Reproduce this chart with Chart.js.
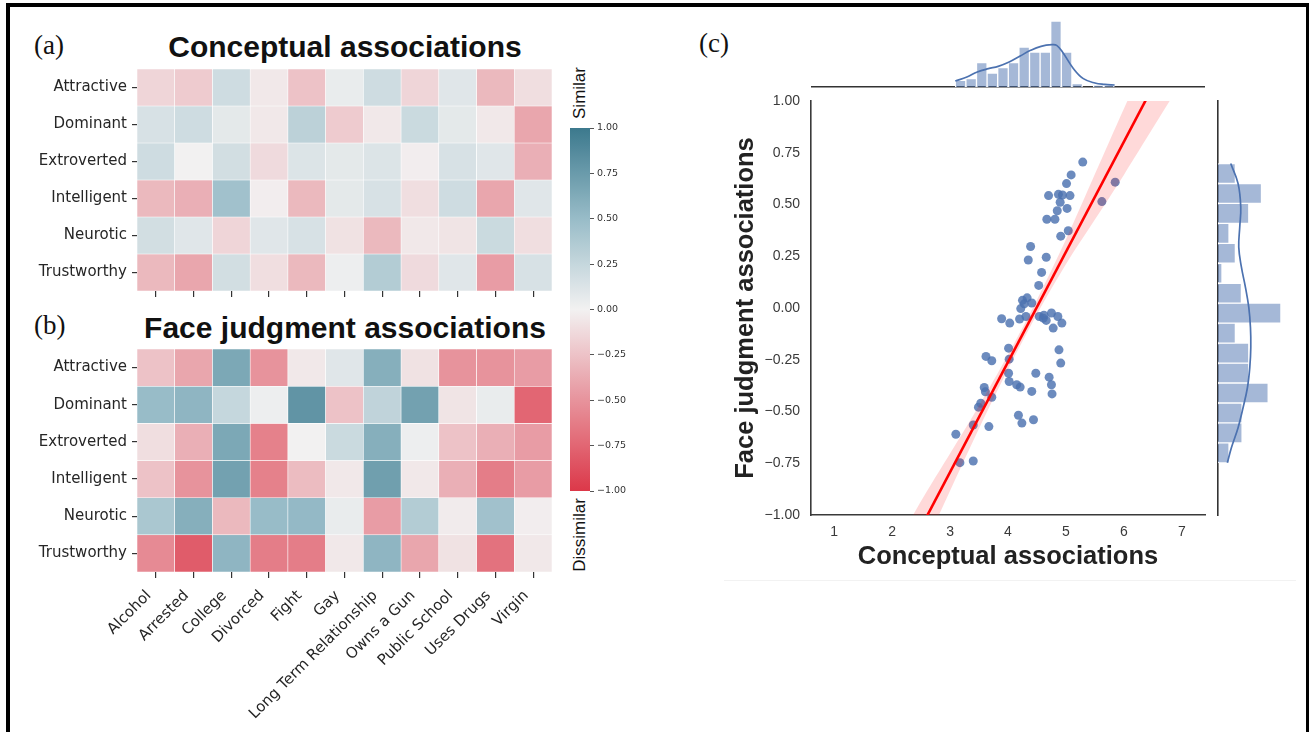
<!DOCTYPE html>
<html>
<head>
<meta charset="utf-8">
<script src="https://cdn.jsdelivr.net/npm/chart.js@4.4.1/dist/chart.umd.min.js"></script>
<style>
    body { margin: 0; background: #fff; width: 1309px; height: 732px; overflow: hidden; position: relative; }
    .frame { position: absolute; left: 6px; top: 3px; width: 1303px; height: 740px; box-sizing: border-box;
             border-top: 4px solid #000; border-left: 4px solid #000; border-right: 3px solid #000; }
    .box { position: absolute; }
    .panel { position: absolute; font-family: "Liberation Serif", serif; font-size: 27px; line-height: 27px; color: #111; }
    .title { position: absolute; font-family: "Liberation Sans", Arial, sans-serif; font-weight: bold;
             font-size: 30px; line-height: 30px; color: #111; text-align: center; }
    .cblabel { position: absolute; font-family: "Liberation Sans", Arial, sans-serif; font-size: 17px; color: #111;
               white-space: nowrap; transform: translate(-50%, -50%) rotate(-90deg); }
    .edge { position: absolute; left: 724px; top: 580px; width: 572px; height: 1px; background: #f2f2f2; }
</style>
</head>
<body>
<div class="frame"></div>
<div class="edge"></div>

<div class="panel" style="left:34px;top:32px">(a)</div>
<div class="panel" style="left:34px;top:312px">(b)</div>
<div class="panel" style="left:699px;top:30px">(c)</div>

<div class="title" style="left:137px;width:416px;top:32px">Conceptual associations</div>
<div class="title" style="left:137px;width:416px;top:313px">Face judgment associations</div>

<div class="cblabel" style="left:580px;top:93px">Similar</div>
<div class="cblabel" style="left:580px;top:535px">Dissimilar</div>

<div class="box" style="left:0;top:55px"><canvas id="heatA" width="570" height="250"></canvas></div>
<div class="box" style="left:0;top:335px"><canvas id="heatB" width="570" height="395"></canvas></div>
<div class="box" style="left:560px;top:118px"><canvas id="colorbar" width="80" height="385"></canvas></div>
<div class="box" style="left:690px;top:95px"><canvas id="scatter" width="530" height="490"></canvas></div>
<div class="box" style="left:811px;top:10px"><canvas id="histTop" width="394" height="80"></canvas></div>
<div class="box" style="left:1214px;top:95px"><canvas id="histRight" width="90" height="425"></canvas></div>

<script>
// Heatmap rows / columns
const traits = ['Attractive', 'Dominant', 'Extroverted', 'Intelligent', 'Neurotic', 'Trustworthy'];
const behaviours = ['Alcohol', 'Arrested', 'College', 'Divorced', 'Fight', 'Gay',
    'Long Term Relationship', 'Owns a Gun', 'Public School', 'Uses Drugs', 'Virgin'];

// (a) conceptual associations, one row per trait
const conceptual = [
    [-0.15, -0.20, 0.20, -0.05, -0.25, 0.05, 0.20, -0.15, 0.10, -0.30, -0.10],
    [0.15, 0.20, 0.08, -0.05, 0.30, -0.20, -0.05, 0.22, 0.08, -0.05, -0.40],
    [0.20, 0.00, 0.18, -0.12, 0.12, 0.08, 0.12, -0.02, 0.15, 0.10, -0.35],
    [-0.30, -0.35, 0.45, -0.02, -0.30, 0.08, 0.15, -0.10, 0.20, -0.40, 0.10],
    [0.18, 0.10, -0.15, 0.10, 0.15, -0.08, -0.30, -0.05, -0.07, 0.22, -0.10],
    [-0.30, -0.40, 0.18, -0.10, -0.30, 0.03, 0.35, -0.12, 0.10, -0.45, 0.15]
];

// (b) face judgment associations
const faceJudgment = [
    [-0.25, -0.40, 0.65, -0.50, -0.05, 0.10, 0.60, -0.08, -0.50, -0.50, -0.45],
    [0.50, 0.55, 0.25, 0.03, 0.80, -0.25, 0.28, 0.70, -0.07, 0.05, -0.75],
    [-0.10, -0.35, 0.65, -0.60, 0.00, 0.22, 0.60, 0.03, -0.25, -0.35, -0.45],
    [-0.25, -0.50, 0.70, -0.60, -0.28, -0.05, 0.72, -0.05, -0.35, -0.62, -0.45],
    [0.40, 0.60, -0.30, 0.50, 0.52, 0.05, -0.45, 0.35, -0.03, 0.45, -0.02],
    [-0.55, -0.80, 0.55, -0.62, -0.62, -0.05, 0.55, -0.40, -0.08, -0.68, -0.05]
];

const colorbarTicks = [-1, -0.75, -0.5, -0.25, 0, 0.25, 0.5, 0.75, 1];

// (c) scatter: conceptual (x) vs face judgment (y)
const scatterX = [5.29, 5.85, 5.62, 5.09, 5.01, 4.70, 4.87, 4.94, 5.07, 4.90, 4.85, 5.02, 4.67, 4.81,
    5.04, 4.91, 4.39, 4.35, 4.66, 4.58, 4.53, 4.33, 4.25, 4.41, 4.22, 4.31, 4.20, 3.89, 4.03, 4.54,
    4.61, 4.66, 4.75, 4.86, 4.93, 4.78, 4.88, 4.91, 4.01, 4.02, 3.62, 3.72, 4.01, 4.02, 4.15, 4.21,
    4.48, 4.71, 4.75, 4.76, 4.41, 3.59, 3.61, 3.72, 3.53, 3.49, 4.18, 4.24, 4.44, 3.40, 3.67, 3.10,
    3.17, 3.40, 4.28, 4.62];
const scatterY = [0.705, 0.608, 0.514, 0.643, 0.601, 0.543, 0.549, 0.546, 0.543, 0.511, 0.470, 0.481,
    0.429, 0.429, 0.373, 0.347, 0.297, 0.232, 0.245, 0.172, 0.109, 0.049, 0.037, 0.024, -0.003, -0.041,
    -0.053, -0.052, -0.073, -0.041, -0.049, -0.060, -0.024, -0.041, -0.073, -0.097, -0.202, -0.266,
    -0.194, -0.247, -0.234, -0.255, -0.315, -0.355, -0.371, -0.382, -0.315, -0.334, -0.371, -0.415,
    -0.403, -0.384, -0.405, -0.431, -0.460, -0.479, -0.518, -0.556, -0.540, -0.565, -0.573, -0.610,
    -0.747, -0.739, 0.020, -0.035];
const xTicks = [1, 2, 3, 4, 5, 6, 7];
const yTicks = [-1, -0.75, -0.5, -0.25, 0, 0.25, 0.5, 0.75, 1];

// fitted line and its confidence band (half width)
const regSlope = 0.532;
const regIntercept = -2.389;
const ciX = [2.2, 2.6, 3.0, 3.5, 4.0, 4.5, 5.0, 5.5, 6.0, 6.5, 7.0];
const ciHalf = [0.14, 0.12, 0.09, 0.055, 0.035, 0.035, 0.06, 0.11, 0.16, 0.20, 0.24];

// marginal histograms
const topHistStart = 3.09;
const topHistWidth = 0.183;
const topHistCounts = [20, 25, 73, 42, 58, 73, 120, 105, 105, 198, 105, 10, 0, 6, 6];
const topKdeX = [3.09, 3.29, 3.47, 3.66, 3.83, 4.02, 4.21, 4.39, 4.57, 4.76, 4.84, 4.94, 5.13, 5.30, 5.50, 5.67, 5.84];
const topKdeY = [18, 30, 45, 55, 62, 75, 93, 110, 122, 127, 125, 105, 55, 25, 12, 8, 6];

const rightHistStart = -0.748;
const rightHistWidth = 0.0964;
const rightHistCounts = [33, 72, 72, 150, 92, 92, 52, 188, 70, 12, 52, 33, 92, 130, 52];
const rightKdeY = [-0.748, -0.675, -0.578, -0.481, -0.384, -0.287, -0.190, -0.094, 0.003, 0.100,
    0.197, 0.294, 0.391, 0.488, 0.601, 0.698];
const rightKdeX = [28, 40, 60, 75, 88, 95, 98, 97, 92, 82, 70, 62, 65, 68, 60, 38];

// diverging colormap, red (dissimilar) -> light grey -> teal (similar)
const cmapStops = [-1, -0.5, 0, 0.5, 1];
const cmapColors = [[220, 56, 73], [231, 147, 156], [242, 241, 241], [152, 188, 200], [60, 121, 141]];

function cmap(v) {
    v = Math.max(-1, Math.min(1, v));
    let i = 0;
    while (i < cmapStops.length - 2 && v > cmapStops[i + 1]) i++;
    const t = (v - cmapStops[i]) / (cmapStops[i + 1] - cmapStops[i]);
    const a = cmapColors[i], b = cmapColors[i + 1];
    const c = a.map((x, k) => Math.round(x + (b[k] - x) * t));
    return `rgb(${c[0]}, ${c[1]}, ${c[2]})`;
}

function fmtTick(v) {
    return v.toFixed(2).replace('-', '\u2212');
}

Chart.defaults.animation = false;
Chart.defaults.responsive = false;
Chart.defaults.devicePixelRatio = 1;
Chart.defaults.plugins.legend.display = false;
Chart.defaults.plugins.tooltip.enabled = false;

const tickFont = { family: 'DejaVu Sans', size: 15 };

function drawHeatmap(id, values, showLabels, xAxisHeight, padTop) {
    // one floating-bar dataset per row, all overlapping in the same category slot
    const datasets = traits.map((t, r) => ({
        data: behaviours.map(() => [r, r + 1]),
        backgroundColor: values[r].map(cmap),
        borderColor: '#ffffff',
        borderWidth: 0.6,
        borderSkipped: false,
        barPercentage: 1,
        categoryPercentage: 1,
        grouped: false
    }));

    new Chart(document.getElementById(id), {
        type: 'bar',
        data: { labels: behaviours, datasets: datasets },
        options: {
            layout: { padding: { top: padTop, right: 18, left: 0, bottom: 0 } },
            scales: {
                x: {
                    grid: { display: true, drawOnChartArea: false, offset: false, tickLength: 6, color: '#333', lineWidth: 1.2 },
                    border: { display: false },
                    ticks: {
                        autoSkip: false,
                        maxRotation: 45,
                        minRotation: 45,
                        padding: 9,
                        labelOffset: -7,
                        font: tickFont,
                        color: '#262626',
                        callback: function(value, index) {
                            return showLabels ? behaviours[index] : '';
                        }
                    },
                    afterFit: scale => { scale.height = xAxisHeight; }
                },
                y: {
                    type: 'linear',
                    min: 0,
                    max: 6,
                    reverse: true,
                    afterBuildTicks: scale => { scale.ticks = traits.map((t, i) => ({ value: i + 0.5 })); },
                    ticks: {
                        padding: 5,
                        font: tickFont,
                        color: '#262626',
                        callback: value => traits[Math.floor(value)]
                    },
                    grid: { display: true, drawOnChartArea: false, tickLength: 5, color: '#333', lineWidth: 1.2 },
                    border: { display: false },
                    afterFit: scale => { scale.width = 137; }
                }
            }
        }
    });
}

drawHeatmap('heatA', conceptual, false, 13, 11);
drawHeatmap('heatB', faceJudgment, true, 158, 12);

// Colorbar
new Chart(document.getElementById('colorbar'), {
    type: 'bar',
    data: {
        labels: [''],
        datasets: [{
            data: [[-1, 1]],
            barPercentage: 1,
            categoryPercentage: 1,
            borderWidth: 0,
            backgroundColor: function(context) {
                const area = context.chart.chartArea;
                if (!area) return null;
                const g = context.chart.ctx.createLinearGradient(0, area.bottom, 0, area.top);
                for (let i = 0; i <= 40; i++) {
                    g.addColorStop(i / 40, cmap(-1 + i / 20));
                }
                return g;
            }
        }]
    },
    options: {
        layout: { padding: { left: 10, top: 10, bottom: 12, right: 0 } },
        scales: {
            x: { display: false },
            y: {
                position: 'right',
                min: -1,
                max: 1,
                afterBuildTicks: scale => { scale.ticks = colorbarTicks.map(v => ({ value: v })); },
                ticks: { padding: 3, font: { family: 'DejaVu Sans', size: 9.5 }, color: '#333', callback: fmtTick },
                grid: { display: true, drawOnChartArea: false, tickLength: 4, color: '#555' },
                border: { display: false },
                afterFit: scale => { scale.width = 50; }
            }
        }
    }
});

// Scatter with regression line and confidence band
const points = scatterX.map((x, i) => ({ x: x, y: scatterY[i] }));
const regLine = [0.6, 7.4].map(x => ({ x: x, y: regSlope * x + regIntercept }));
const bandUpper = ciX.map((x, i) => ({ x: x, y: regSlope * x + regIntercept + ciHalf[i] }));
const bandLower = ciX.map((x, i) => ({ x: x, y: regSlope * x + regIntercept - ciHalf[i] }));

const sansTick = { family: 'Liberation Sans', size: 14 };
const axisTitleFont = { family: 'Liberation Sans', size: 25.5, weight: 'bold' };

new Chart(document.getElementById('scatter'), {
    type: 'scatter',
    data: {
        datasets: [
            { type: 'line', data: regLine, borderColor: '#ff0000', borderWidth: 2.6, pointRadius: 0, fill: false },
            { type: 'line', data: bandUpper, borderColor: 'transparent', borderWidth: 0, pointRadius: 0, fill: false, tension: 0.3 },
            { type: 'line', data: bandLower, borderColor: 'transparent', borderWidth: 0, pointRadius: 0, fill: '-1',
              backgroundColor: 'rgba(255, 0, 0, 0.15)', tension: 0.3 },
            { data: points, backgroundColor: 'rgba(76, 114, 176, 0.82)', borderWidth: 0, pointRadius: 4.5 }
        ]
    },
    options: {
        layout: { padding: { top: 6, right: 15, left: 0, bottom: 0 } },
        scales: {
            x: {
                type: 'linear',
                min: 0.6,
                max: 7.4,
                afterBuildTicks: scale => { scale.ticks = xTicks.map(v => ({ value: v })); },
                ticks: { padding: 9, font: sansTick, color: '#3a3a3a' },
                grid: { display: true, drawOnChartArea: false, drawTicks: false },
                border: { display: true, color: '#3a3a3a', width: 1.6 },
                title: { display: true, text: 'Conceptual associations', font: axisTitleFont, color: '#222',
                         padding: { top: 0, bottom: 13 } },
                afterFit: scale => { scale.height = 70; scale.paddingLeft = 0; scale.paddingRight = 0; }
            },
            y: {
                min: -1,
                max: 1,
                afterBuildTicks: scale => { scale.ticks = yTicks.map(v => ({ value: v })); },
                ticks: { padding: 11, font: sansTick, color: '#3a3a3a', callback: fmtTick },
                grid: { display: true, drawOnChartArea: false, drawTicks: false },
                border: { display: true, color: '#3a3a3a', width: 1.6 },
                title: { display: true, text: 'Face judgment associations', font: axisTitleFont, color: '#222',
                         padding: { top: 41, bottom: 0 } },
                afterFit: scale => { scale.width = 121; scale.paddingTop = 0; scale.paddingBottom = 0; }
            }
        }
    }
});

// Top marginal histogram
const topHist = topHistCounts.map((c, i) => ({ x: topHistStart + (i + 0.5) * topHistWidth, y: c }));
const topKde = topKdeX.map((x, i) => ({ x: x, y: topKdeY[i] }));

new Chart(document.getElementById('histTop'), {
    type: 'bar',
    data: {
        datasets: [
            { type: 'line', data: topKde, borderColor: '#4c72b0', borderWidth: 1.7, pointRadius: 0, tension: 0.4 },
            { data: topHist, backgroundColor: 'rgba(76, 114, 176, 0.5)', borderColor: '#ffffff', borderWidth: 1,
              barPercentage: 1, categoryPercentage: 1 }
        ]
    },
    options: {
        layout: { padding: 0 },
        scales: {
            x: {
                type: 'linear', min: 0.6, max: 7.4, offset: false,
                afterBuildTicks: scale => { scale.ticks = []; },
                ticks: { display: false },
                grid: { display: true, drawOnChartArea: false, drawTicks: false, offset: false },
                border: { display: true, color: '#333', width: 1.6 },
                afterFit: scale => { scale.height = 3; scale.paddingLeft = 0; scale.paddingRight = 0; }
            },
            y: { display: false, min: 0, max: 231 }
        }
    }
});

// Right marginal histogram
const rightHist = rightHistCounts.map((c, i) => ({ y: rightHistStart + (i + 0.5) * rightHistWidth, x: c }));
const rightKde = rightKdeY.map((y, i) => ({ x: rightKdeX[i], y: y }));

new Chart(document.getElementById('histRight'), {
    type: 'bar',
    data: {
        datasets: [
            { type: 'line', data: rightKde, borderColor: '#4c72b0', borderWidth: 1.7, pointRadius: 0, tension: 0.4 },
            { data: rightHist, backgroundColor: 'rgba(76, 114, 176, 0.5)', borderColor: '#ffffff', borderWidth: 1,
              barPercentage: 1, categoryPercentage: 1 }
        ]
    },
    options: {
        indexAxis: 'y',
        layout: { padding: { top: 6, bottom: 5, left: 0, right: 4 } },
        scales: {
            y: {
                type: 'linear', min: -1, max: 1, offset: false,
                afterBuildTicks: scale => { scale.ticks = []; },
                ticks: { display: false },
                grid: { display: true, drawOnChartArea: false, drawTicks: false, offset: false },
                border: { display: true, color: '#333', width: 1.6 },
                afterFit: scale => { scale.width = 4; scale.paddingTop = 0; scale.paddingBottom = 0; }
            },
            x: { display: false, min: 0, max: 245 }
        }
    }
});
</script>
</body>
</html>
